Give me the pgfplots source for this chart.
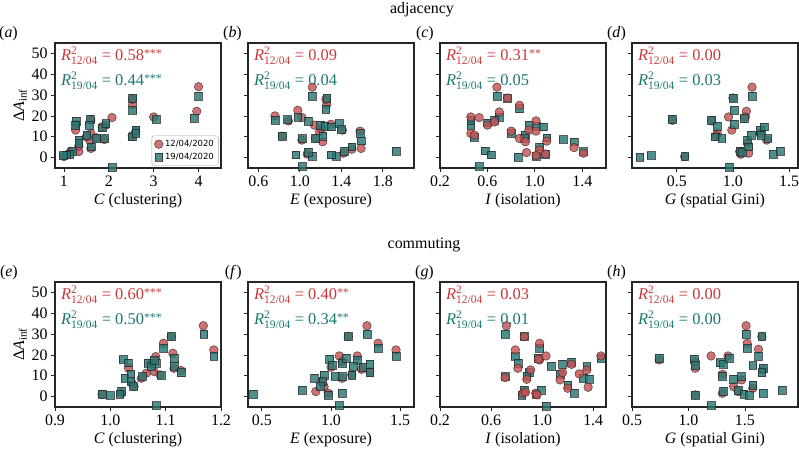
\documentclass[border=0pt]{standalone}
\usepackage{pgfplots}
\pgfplotsset{compat=1.18}
\usepackage{amsmath}
\usepackage{fontspec}
\setmainfont{Liberation Serif}
\newfontfamily\legfont{DejaVu Sans}
\definecolor{cred}{RGB}{199,82,82}
\definecolor{cteal}{RGB}{40,120,118}
\definecolor{tred}{RGB}{200,58,58}
\definecolor{tteal}{RGB}{28,118,116}
\newcommand{\Rsq}[1]{$\textit{R}^{\text{2}}_{\text{#1}}$}
\newcommand{\st}[1]{\raisebox{0.45ex}{\fontsize{12}{12}\selectfont #1}}
\pgfplotsset{
  panel/.style={width=166bp,height=125bp,scale only axis,anchor=south west,
    ymin=-5,ymax=55,ytick={0,10,20,30,40,50},yticklabels={},
    tick pos=left,tick align=outside,major tick length=4bp,
    axis line style={line width=1.1pt,black!85},
    every tick/.style={black!85,line width=0.8pt},
    tick label style={font=\fontsize{16}{16}\selectfont},
    label style={font=\fontsize{16}{18}\selectfont},
    clip=false},
  circ/.style={only marks,mark=*,mark size=4.3bp,mark options={fill=cred,fill opacity=0.82,draw=black!85,draw opacity=0.75,line width=0.55pt}},
  sq/.style={only marks,mark=square*,mark size=3.9bp,mark options={fill=cteal,fill opacity=0.82,draw=black!85,draw opacity=0.75,line width=0.55pt}},
  ylab/.style={yticklabels={0,10,20,30,40,50},ylabel={Δ\textit{A}\textsubscript{inf}},ylabel shift=-2bp},
}
\newcommand{\rtext}[2]{%
  \node[anchor=base west,text=tred,font=\fontsize{16.5}{16}\selectfont,inner sep=0pt] at (rel axis cs:0.035,0.86) {#1};
  \node[anchor=base west,text=tteal,font=\fontsize{16.5}{16}\selectfont,inner sep=0pt] at (rel axis cs:0.035,0.66) {#2};}
\newcommand{\plab}[2]{\node[anchor=base east,font=\fontsize{16}{16}\selectfont,inner sep=0pt] at (rel axis cs:0,1) [xshift=#2,yshift=6bp] {(\textit{#1})};}
\begin{document}
\begin{tikzpicture}
\useasboundingbox (0,0) rectangle (799bp,453bp);
\node[font=\fontsize{16}{16}\selectfont] at (422bp,443bp) {adjacency};
\node[font=\fontsize{16}{16}\selectfont] at (424bp,208bp) {commuting};
% (a)
\begin{axis}[panel,ylab,at={(55bp,285bp)},xmin=0.8,xmax=4.5,xtick={1,2,3,4},xticklabels={1,2,3,4},xlabel={\textit{C} (clustering)},
  legend style={at={(rel axis cs:0.985,0.02)},anchor=south east,font=\legfont\fontsize{8.5}{10}\selectfont,draw=black!35,rounded corners=2pt,inner sep=2.5pt,row sep=1pt},legend cell align=left]
\addplot[circ] coordinates {(4.0,34)(3.96,22.2)(3.0,19.5)(2.53,25.4)(2.07,19.2)(1.93,15.5)(1.9,8.7)(1.26,13.2)(1.33,2.9)(1.57,8.4)(1.6,4.4)(1.6,11.6)(1.0,0.5)(1.27,16)(1.33,5.5)(1.6,18)(1.72,9.5)(2.52,10.5)(2.6,12.5)(1.15,3)(1.08,1.5)(1.5,10)(1.85,14.8)(2.53,28)};
\addplot[sq] coordinates {(4.0,29.5)(3.9,19)(3.05,18.3)(2.53,28.6)(2.53,22.7)(2.52,10)(2.6,13.2)(2.6,11.6)(2.07,-4.8)(1.85,14.3)(1.93,16.3)(1.9,9.2)(1.72,9.2)(1.59,18.4)(1.56,15.6)(1.51,10.8)(1.27,17.6)(1.26,15.6)(1.33,8.4)(1.33,6.8)(1.19,2.9)(1.13,1.6)(1.05,1.3)(0.98,1.0)(1.6,5.2)};
\legend{12/04/2020,19/04/2020}
\rtext{\Rsq{12/04} = 0.58\st{***}}{\Rsq{19/04} = 0.44\st{***}}
\plab{a}{-37bp}
\end{axis}
% (b)
\begin{axis}[panel,at={(248bp,285bp)},xmin=0.5,xmax=2.1,xtick={0.6,1.0,1.4,1.8},xticklabels={0.6,1.0,1.4,1.8},xlabel={\textit{E} (exposure)}]
\addplot[circ] coordinates {(1.12,33.8)(0.98,22.7)(0.76,20)(0.89,17.6)(1.02,19.2)(1.26,25.6)(1.19,12.4)(1.22,7.6)(1.15,9.2)(1.41,13.2)(1.58,12.7)(1.59,4.4)(1.5,4.0)(1.42,2.1)(1.02,8.4)(1.07,1.7)(0.83,10.3)(1.25,28)(1.14,15.6)(1.21,14)(1.3,16)};
\addplot[sq] coordinates {(1.12,29.5)(1.26,28.6)(1.25,23.2)(0.76,17.9)(0.88,18.3)(0.98,19.2)(1.08,17.6)(1.2,15.6)(1.24,15.1)(1.3,14.8)(1.38,16.3)(1.4,13.5)(1.58,11.6)(1.59,8.1)(1.5,5.2)(1.43,3.2)(1.35,0.5)(1.3,1.3)(1.12,0.8)(1.08,2.5)(0.96,1.3)(1.02,-4.3)(1.02,9.2)(0.83,10.3)(1.15,9.2)(1.22,10.3)(1.93,3.2)};
\rtext{\Rsq{12/04} = 0.09}{\Rsq{19/04} = 0.04}
\plab{b}{-6bp}
\end{axis}
% (c)
\begin{axis}[panel,at={(440bp,285bp)},xmin=0.2,xmax=1.6,xtick={0.2,0.6,1.0,1.4},xticklabels={0.2,0.6,1.0,1.4},xlabel={\textit{I} (isolation)}]
\addplot[sq] coordinates {(0.68,29.5)(0.77,28.6)(0.87,23.5)(0.70,19.5)(0.46,15.6)(0.46,17.9)(0.60,16.7)(0.66,17.9)(0.49,9.7)(0.80,11.6)(0.92,10.8)(0.95,15.6)(1.01,15.1)(1.07,14.8)(1.10,9.5)(1.24,8.7)(1.33,7.6)(1.41,2.9)(1.04,5.2)(1.01,0.8)(1.09,1.7)(0.86,0.2)(0.58,3.3)(0.63,1.3)(0.53,-4.3)(0.91,9.2)};
\addplot[circ] coordinates {(0.68,33.8)(0.77,28.6)(0.87,25.1)(0.70,21.9)(0.46,19.5)(0.53,19.2)(0.60,15.6)(0.66,17.1)(0.46,11.6)(0.49,10.8)(0.80,12.7)(0.87,9.2)(0.92,7.6)(0.95,13.2)(1.01,17.6)(1.01,12.7)(1.10,7.9)(1.04,3.7)(1.01,1.0)(1.09,1.7)(0.93,2.4)(1.33,4.8)(1.41,2.1)};
\rtext{\Rsq{12/04} = 0.31\st{**}}{\Rsq{19/04} = 0.05}
\plab{c}{-6bp}
\end{axis}
% (d)
\begin{axis}[panel,at={(632bp,285bp)},xmin=0.1,xmax=1.58,xtick={0.5,1.0,1.5},xticklabels={0.5,1.0,1.5},xlabel={\textit{G} (spatial Gini)}]
\addplot[circ] coordinates {(1.17,33.8)(0.96,19.5)(0.99,13.2)(1.12,22.2)(1.11,19.5)(0.46,17.9)(0.86,11.6)(1.06,2.9)(1.07,1.6)(1.14,2.1)(1.13,6.8)(1.30,8.4)(1.24,11.6)(0.57,0.5)(1.0,28.6)(0.81,17.6)(0.85,10.5)};
\addplot[sq] coordinates {(1.17,29.5)(1.0,28.6)(1.01,22.7)(1.01,16)(1.10,18.7)(0.46,18.4)(0.81,17.9)(0.86,15.1)(0.84,10)(0.90,9.2)(1.06,3.2)(1.08,2.4)(1.13,8.4)(1.14,5.2)(1.16,10.8)(1.24,13.2)(1.28,14.8)(1.25,10.8)(1.31,9.2)(1.36,1.6)(1.42,3.2)(0.57,0.5)(0.27,1.0)(0.17,0.2)(0.97,-4.6)};
\rtext{\Rsq{12/04} = 0.00}{\Rsq{19/04} = 0.03}
\plab{d}{-6bp}
\end{axis}
% (e)
\begin{axis}[panel,ylab,at={(55bp,46bp)},xmin=0.9,xmax=1.2,xtick={0.9,1.0,1.1,1.2},xticklabels={0.9,1.0,1.1,1.2},xlabel={\textit{C} (clustering)}]
\addplot[circ] coordinates {(1.168,34)(1.187,22.4)(1.113,20.8)(1.115,13.6)(1.128,12.5)(1.096,25.6)(1.082,19.2)(1.079,12)(1.033,13.6)(1.043,4.8)(1.04,6.1)(1.056,8.8)(1.065,11.2)(0.985,1.1)(1.02,1.6)(1.09,10.4)(1.11,28.8)(1.074,16)};
\addplot[sq] coordinates {(1.169,29.9)(1.187,19.5)(1.11,28.8)(1.096,23.2)(1.115,18.4)(1.115,14.4)(1.128,11.5)(1.083,16)(1.068,16)(1.074,14.7)(1.023,17.8)(1.033,16.2)(1.026,8.8)(1.037,10.9)(1.037,7.2)(1.042,4.8)(1.058,9.6)(1.092,10.1)(1.02,2.7)(1.017,1.3)(0.985,1.1)(1.0,0.5)(1.083,-4.3)(1.079,17.6)};
\rtext{\Rsq{12/04} = 0.60\st{***}}{\Rsq{19/04} = 0.50\st{***}}
\plab{e}{-37bp}
\end{axis}
% (f)
\begin{axis}[panel,at={(248bp,46bp)},xmin=0.4,xmax=1.6,xtick={0.5,1.0,1.5},xticklabels={0.5,1.0,1.5},xlabel={\textit{E} (exposure)}]
\addplot[circ] coordinates {(1.26,34)(1.34,25.6)(1.47,22.4)(1.06,19.5)(1.19,19.5)(1.0,14.1)(1.08,8.8)(1.22,13.1)(1.28,12)(0.89,2.4)(0.95,4.8)(0.98,1.6)(1.08,16.8)(1.125,28.8)(1.15,10.4)(0.93,7.2)};
\addplot[sq] coordinates {(1.26,29.9)(1.34,23.2)(1.47,19.5)(1.125,28.8)(0.99,17.9)(1.01,15.2)(1.08,16)(1.11,18.4)(1.19,17.6)(1.16,14.7)(1.23,14.1)(1.28,15.5)(1.28,11.5)(1.15,10.4)(1.03,9.6)(1.08,9.6)(0.88,8.8)(0.95,10.4)(0.94,7.2)(0.92,5.1)(0.79,3.2)(0.98,0.8)(1.08,1.6)(1.06,-4.3)(0.44,1.1)};
\rtext{\Rsq{12/04} = 0.40\st{**}}{\Rsq{19/04} = 0.34\st{**}}
\plab{f}{-6bp}
\end{axis}
% (g)
\begin{axis}[panel,at={(440bp,46bp)},xmin=0.2,xmax=1.5,xtick={0.2,0.6,1.0,1.4},xticklabels={0.2,0.6,1.0,1.4},xlabel={\textit{I} (isolation)}]
\addplot[sq] coordinates {(0.71,29.9)(0.86,28.8)(0.98,23.2)(0.79,19.5)(0.81,16)(0.97,18.4)(1.07,14.7)(1.16,15.5)(1.23,16.5)(1.14,10.9)(0.90,11.5)(0.88,9.9)(0.71,9.6)(0.86,3.2)(0.84,0.8)(0.95,1.1)(0.99,3.2)(1.03,-4.5)(1.2,5.6)(1.25,1.6)(1.32,8.8)(1.35,14.4)(1.37,8.3)(1.46,18.4)};
\addplot[circ] coordinates {(0.72,34)(0.86,28.8)(0.79,22.4)(0.81,13.6)(0.98,25.6)(0.98,17.6)(1.03,19.5)(0.97,17.9)(0.91,12.8)(0.88,8.3)(0.71,9.1)(0.85,1.6)(0.87,2.1)(0.95,1.6)(0.96,0.8)(1.14,8)(1.16,11.5)(1.23,15.5)(1.2,4)(1.29,10.9)(1.35,12.8)(1.36,4.5)(1.46,19.5)};
\rtext{\Rsq{12/04} = 0.03}{\Rsq{19/04} = 0.01}
\plab{g}{-6bp}
\end{axis}
% (h)
\begin{axis}[panel,at={(632bp,46bp)},xmin=0.5,xmax=1.97,xtick={0.5,1.0,1.5},xticklabels={0.5,1.0,1.5},xlabel={\textit{G} (spatial Gini)}]
\addplot[circ] coordinates {(1.51,34)(1.52,25.6)(1.62,22.7)(1.35,19.5)(1.20,19.5)(0.74,17.6)(1.06,13.6)(1.06,16.8)(1.30,10.7)(1.30,1.6)(1.40,4.8)(1.44,2.4)(1.47,8)(1.57,4)(1.06,0.8)(1.65,28.8)(1.66,12.8)};
\addplot[sq] coordinates {(1.51,29.9)(1.52,23.2)(1.62,19.5)(1.65,28.8)(1.57,14.9)(1.66,13.6)(1.65,11.5)(0.74,18.4)(1.05,17.9)(1.06,15.2)(1.28,16.3)(1.31,15.7)(1.36,18.4)(1.30,9.9)(1.40,8.3)(1.47,9.6)(1.44,3.2)(1.49,1.3)(1.54,0.5)(1.57,5.6)(1.66,1.6)(1.83,3.2)(1.31,2.7)(1.06,0.8)(1.20,-4.3)};
\rtext{\Rsq{12/04} = 0.00}{\Rsq{19/04} = 0.00}
\plab{h}{-6bp}
\end{axis}
\end{tikzpicture}
\end{document}
